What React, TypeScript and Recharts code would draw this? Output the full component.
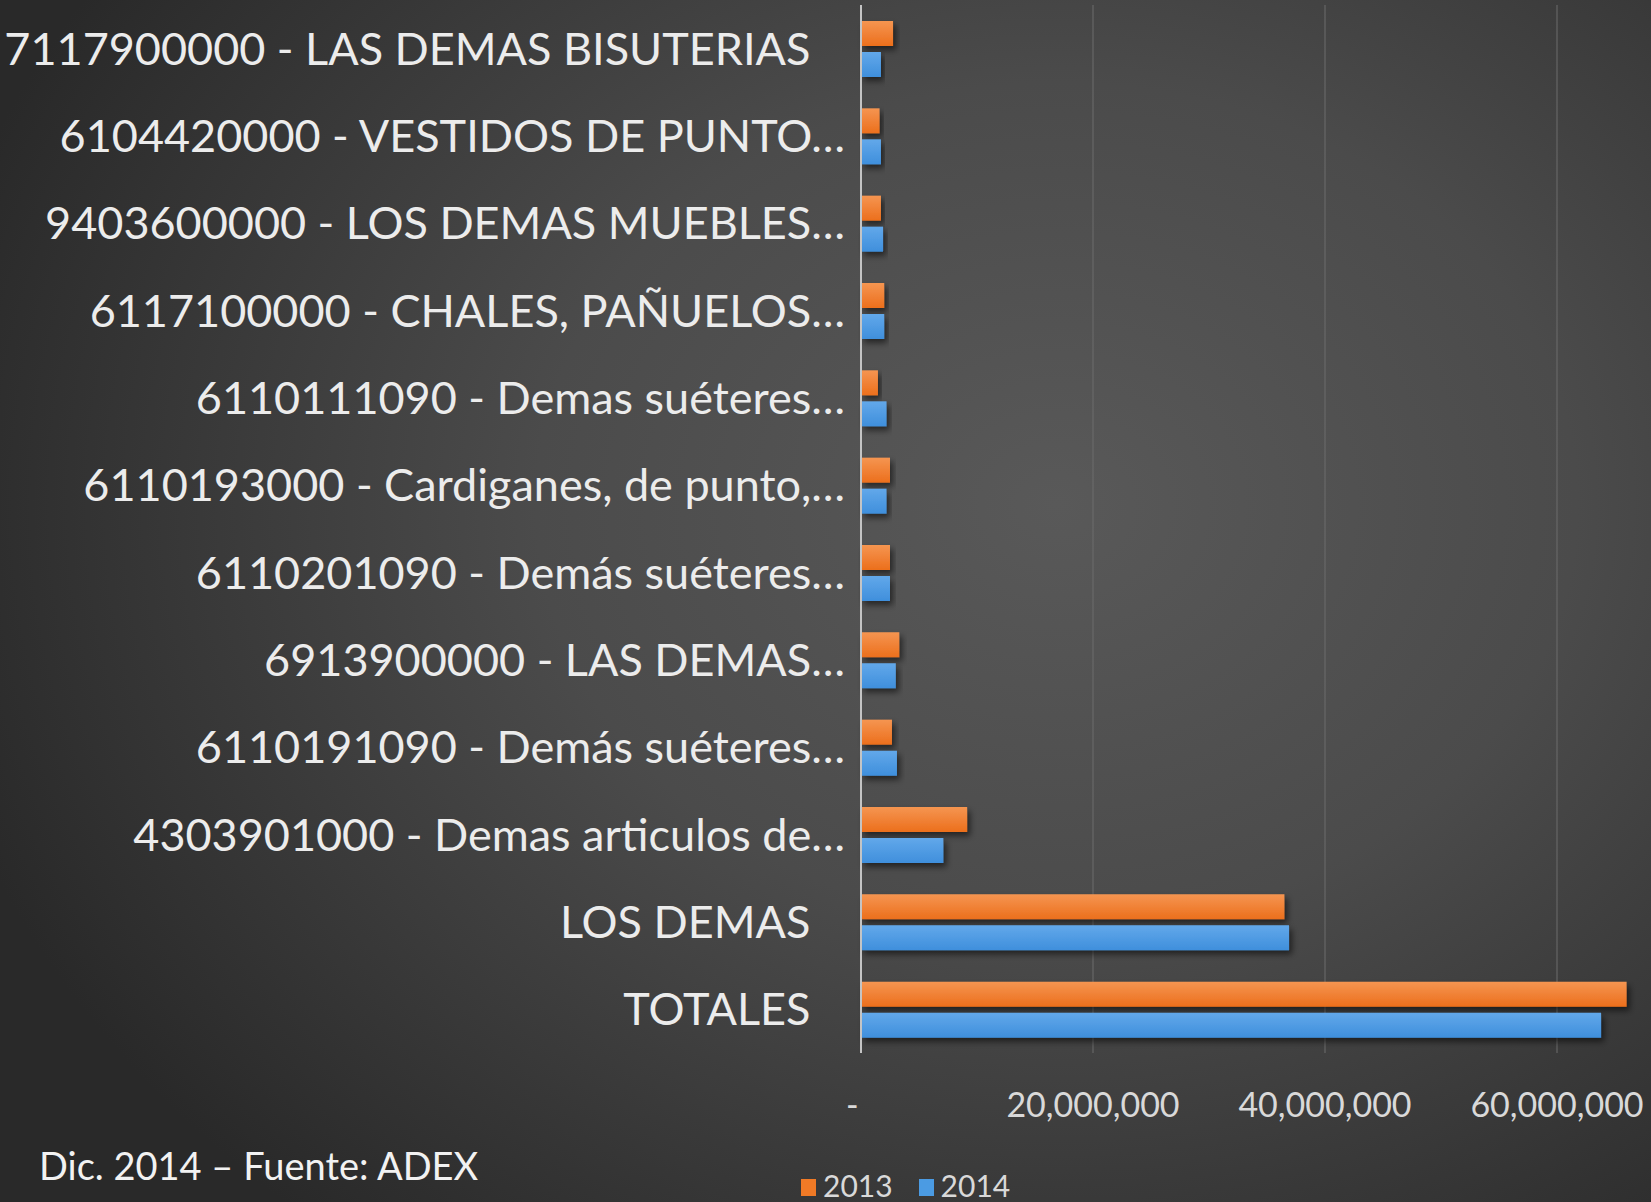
import React from 'react';
import { BarChart, Bar, XAxis, YAxis, CartesianGrid, Legend } from 'recharts';

// Labels keep their trailing spaces like the original sheet (non-breaking so SVG keeps them)
const categories = [
  '7117900000 - LAS DEMAS BISUTERIAS\u00a0\u00a0\u00a0',
  '6104420000 - VESTIDOS DE PUNTO…',
  '9403600000 - LOS DEMAS MUEBLES…',
  '6117100000 - CHALES, PAÑUELOS…',
  '6110111090 - Demas suéteres…',
  '6110193000 - Cardiganes, de punto,…',
  '6110201090 - Demás suéteres…',
  '6913900000 - LAS DEMAS…',
  '6110191090 - Demás suéteres…',
  '4303901000 - Demas articulos de…',
  'LOS DEMAS\u00a0\u00a0\u00a0',
  'TOTALES\u00a0\u00a0\u00a0',
];

const values2013 = [2760000, 1600000, 1720000, 2000000, 1460000, 2500000, 2500000, 3300000, 2670000, 9150000, 36500000, 66000000];
const values2014 = [1720000, 1720000, 1900000, 2000000, 2200000, 2200000, 2500000, 3000000, 3100000, 7100000, 36900000, 63800000];

const xTicks = [0, 20000000, 40000000, 60000000];

const data = categories.map((name, i) => ({
  name,
  y2013: values2013[i],
  y2014: values2014[i],
}));

const ORANGE = '#f07a26';
const BLUE = '#4b9be3';
const FONT = 'Lato, "Open Sans", sans-serif';

const formatTick = (v: number) => (v === 0 ? '-\u00a0\u00a0' : v.toLocaleString('en-US'));

const renderLegend = () => (
  <div style={{ display: 'flex', alignItems: 'flex-end', fontFamily: FONT, fontSize: 30, lineHeight: '30px', color: '#d9d9d9' }}>
    {[
      { label: '2013', color: ORANGE },
      { label: '2014', color: BLUE },
    ].map(item => (
      <div key={item.label} style={{ display: 'flex', alignItems: 'flex-end', marginRight: 26 }}>
        <span style={{ display: 'inline-block', width: 15, height: 17, background: item.color, marginRight: 7, marginBottom: 4 }} />
        <span>{item.label}</span>
      </div>
    ))}
  </div>
);

export default function App() {
  return (
    <div
      style={{
        position: 'absolute',
        left: 0,
        top: 0,
        width: 1651,
        height: 1202,
        overflow: 'hidden',
        background: 'radial-gradient(ellipse 70% 78% at 64% 42%, #595959 0%, #4b4b4b 45%, #292929 100%)',
      }}
    >
      <BarChart
        width={1800}
        height={1202}
        data={data}
        layout="vertical"
        margin={{ top: 5, right: 11, bottom: 0, left: 0 }}
        barSize={25}
        barGap={6}
      >
        <defs>
          <linearGradient id="gOrange" x1="0" y1="0" x2="0" y2="1">
            <stop offset="0%" stopColor="#f59551" />
            <stop offset="100%" stopColor="#ec6f1c" />
          </linearGradient>
          <linearGradient id="gBlue" x1="0" y1="0" x2="0" y2="1">
            <stop offset="0%" stopColor="#62a8ea" />
            <stop offset="100%" stopColor="#3f8fdc" />
          </linearGradient>
          <filter id="shadow" x="-10%" y="-30%" width="130%" height="180%">
            <feDropShadow dx="3" dy="4" stdDeviation="3" floodColor="#000" floodOpacity="0.55" />
          </filter>
        </defs>
        <CartesianGrid horizontal={false} stroke="#6c6c6c" strokeWidth={1} />
        <XAxis
          type="number"
          domain={[0, 80000000]}
          ticks={xTicks}
          tickFormatter={formatTick}
          axisLine={false}
          tickLine={false}
          tickMargin={34}
          height={149}
          tick={{ fill: '#d9d9d9', fontSize: 34, fontFamily: FONT }}
        />
        <YAxis
          type="category"
          dataKey="name"
          width={861}
          axisLine={{ stroke: '#c4c4c4', strokeWidth: 2 }}
          tickLine={false}
          tickMargin={10}
          interval={0}
          tick={{ fill: '#ececec', fontSize: 45, fontFamily: FONT }}
        />
        <Legend
          verticalAlign="middle"
          layout="horizontal"
          content={renderLegend}
          wrapperStyle={{ position: 'absolute', left: 801, top: 1170, width: 320 }}
        />
        <Bar dataKey="y2013" name="2013" fill="url(#gOrange)" filter="url(#shadow)" isAnimationActive={false} />
        <Bar dataKey="y2014" name="2014" fill="url(#gBlue)" filter="url(#shadow)" isAnimationActive={false} />
      </BarChart>
      <div
        style={{
          position: 'absolute',
          left: 39,
          top: 1144,
          fontFamily: FONT,
          fontSize: 38,
          lineHeight: '42px',
          color: '#f2f2f2',
        }}
      >
        Dic. 2014 – Fuente: ADEX
      </div>
    </div>
  );
}
